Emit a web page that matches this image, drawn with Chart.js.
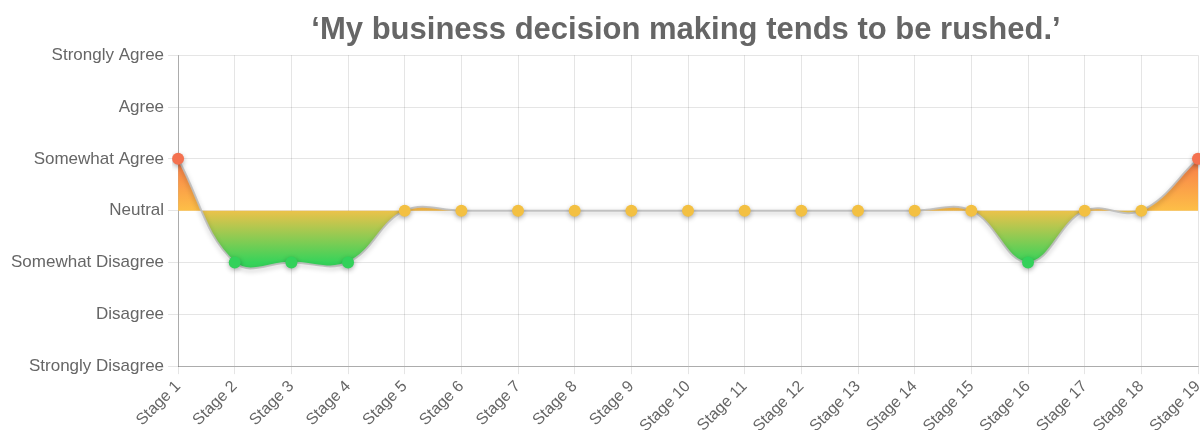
<!DOCTYPE html>
<html>
<head>
<meta charset="utf-8">
<title>Decision making</title>
<script src="https://cdn.jsdelivr.net/npm/chart.js@4/dist/chart.umd.min.js"></script>
<style>
    html, body { margin: 0; padding: 0; background: #fff; }
    #wrap { width: 1200px; height: 430px; position: relative; }
    canvas { display: block; }
</style>
</head>
<body>
<div id="wrap"><canvas id="chart"></canvas></div>
<script>
// Survey stages
const STAGES = [
    'Stage 1', 'Stage 2', 'Stage 3', 'Stage 4', 'Stage 5', 'Stage 6', 'Stage 7',
    'Stage 8', 'Stage 9', 'Stage 10', 'Stage 11', 'Stage 12', 'Stage 13',
    'Stage 14', 'Stage 15', 'Stage 16', 'Stage 17', 'Stage 18', 'Stage 19'
];

// Answers on a -3..3 scale (0 = Neutral)
const ANSWERS = [1, -1, -1, -1, 0, 0, 0, 0, 0, 0, 0, 0, 0, 0, 0, -1, 0, 0, 1];

// Likert labels, from -3 up to 3
const SCALE_LABELS = [
    'Strongly Disagree', 'Disagree', 'Somewhat Disagree', 'Neutral',
    'Somewhat Agree', 'Agree', 'Strongly Agree'
];

const TITLE = '\u2018My business decision making tends to be rushed.\u2019';

const FONT = '"Liberation Sans", Arial, Helvetica, sans-serif';

// Vertical gradient: orange-red on top, yellow at neutral, green below
function makeGradient(chart, stops) {
    const { ctx, chartArea, scales } = chart;
    if (!chartArea) return null;
    const top = scales.y.getPixelForValue(1);
    const bottom = scales.y.getPixelForValue(-1);
    const g = ctx.createLinearGradient(0, top, 0, bottom);
    stops.forEach(([p, c]) => g.addColorStop(p, c));
    return g;
}

function fillColor(context) {
    return makeGradient(context.chart, [
        [0, '#f87a4a'],
        [0.5, '#fdbf47'],
        [0.5, '#ecc24a'],
        [1, '#36d35a']
    ]);
}

function pointColor(context) {
    const v = ANSWERS[context.dataIndex];
    if (v > 0) return '#f4714f';
    if (v < 0) return '#33d15a';
    return '#f3c042';
}

// Soft drop shadow under the line and points
const shadowPlugin = {
    id: 'lineShadow',
    beforeDatasetDraw(chart) {
        const ctx = chart.ctx;
        ctx.save();
        ctx.shadowColor = 'rgba(0, 0, 0, 0.3)';
        ctx.shadowBlur = 5;
        ctx.shadowOffsetX = 0;
        ctx.shadowOffsetY = 2;
    },
    afterDatasetDraw(chart) {
        chart.ctx.restore();
    }
};

// Stretch the plot so the last stage lands right at the canvas edge
const edgePlugin = {
    id: 'edgeRight',
    afterLayout(chart) {
        const x = chart.scales.x;
        const right = chart.width - 2;
        x.right = right;
        x.width = right - x.left;
        x.configure();
        chart.chartArea.right = right;
        chart.chartArea.width = right - chart.chartArea.left;
    }
};

const ctx = document.getElementById('chart').getContext('2d');
new Chart(ctx, {
    type: 'line',
    data: {
        labels: STAGES,
        datasets: [{
            data: ANSWERS,
            borderColor: 'rgba(190, 190, 190, 0.9)',
            borderWidth: 2,
            backgroundColor: fillColor,
            fill: 'origin',
            tension: 0.4,
            pointRadius: 6,
            pointHoverRadius: 6,
            pointBackgroundColor: pointColor,
            pointBorderColor: pointColor,
            pointBorderWidth: 0
        }]
    },
    options: {
        responsive: true,
        maintainAspectRatio: false,
        animation: false,
        layout: { padding: { left: 7, right: 0, top: 0, bottom: 0 } },
        plugins: {
            legend: { display: false },
            tooltip: { enabled: false },
            title: {
                display: true,
                text: TITLE,
                fullSize: false,
                color: '#666',
                font: { family: FONT, size: 31, weight: 'bold' },
                padding: { top: 12, bottom: 6 }
            }
        },
        scales: {
            x: {
                grid: {
                    color: 'rgba(0, 0, 0, 0.1)',
                    tickLength: 8
                },
                border: { color: 'rgba(0, 0, 0, 0.25)' },
                ticks: {
                    color: '#666',
                    font: { family: FONT, size: 16 },
                    minRotation: 45,
                    maxRotation: 45,
                    autoSkip: false
                },
                // labels run off the bottom of the canvas
                afterFit(scale) {
                    scale.paddingRight = 0;
                    scale.height -= 9;
                }
            },
            y: {
                min: -3,
                max: 3,
                grid: {
                    color: 'rgba(0, 0, 0, 0.1)',
                    tickLength: 10
                },
                border: { color: 'rgba(0, 0, 0, 0.25)' },
                ticks: {
                    stepSize: 1,
                    color: '#666',
                    padding: 4,
                    font: { family: FONT, size: 17 },
                    callback: value => SCALE_LABELS[value + 3]
                }
            }
        }
    },
    plugins: [shadowPlugin, edgePlugin]
});
</script>
</body>
</html>
